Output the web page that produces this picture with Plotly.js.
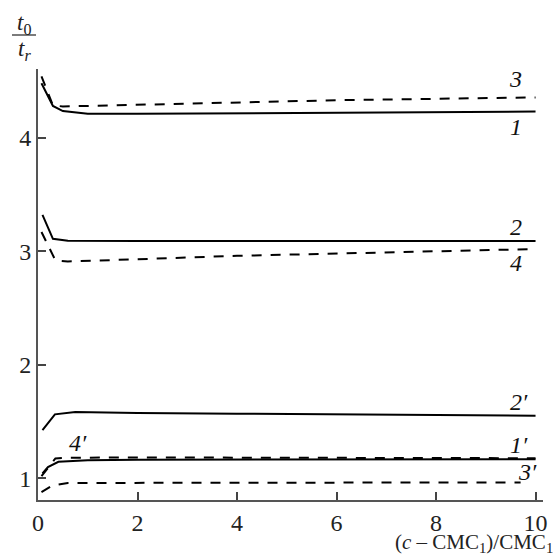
<!DOCTYPE html>
<html>
<head>
<meta charset="utf-8">
<script src="https://cdn.plot.ly/plotly-3.0.1.min.js"></script>
<style>html,body{margin:0;padding:0;background:#fff;}#chart{width:555px;height:556px;}</style>
</head>
<body>
<div id="chart"></div>
<script>
// Curve data: x = (c - CMC1)/CMC1, y = t0/tr
var x1 = [0.07, 0.3, 0.5, 1, 2, 4, 6, 8, 10];
var y1 = [4.48, 4.28, 4.235, 4.21, 4.21, 4.215, 4.22, 4.225, 4.23];
var x3 = [0.07, 0.3, 0.5, 1, 3, 6, 10];
var y3 = [4.54, 4.285, 4.275, 4.28, 4.30, 4.33, 4.355];
var x2 = [0.09, 0.3, 0.6, 2, 6, 10];
var y2 = [3.32, 3.11, 3.093, 3.09, 3.09, 3.09];
var x4 = [0.07, 0.35, 0.6, 1, 2, 4, 6, 8, 10];
var y4 = [3.17, 2.92, 2.91, 2.915, 2.93, 2.96, 2.98, 3.0, 3.02];
var x2p = [0.09, 0.34, 0.75, 2, 4, 7, 10];
var y2p = [1.425, 1.564, 1.584, 1.575, 1.57, 1.56, 1.552];
var x1p = [0.09, 0.2, 0.41, 1, 2, 5, 10];
var y1p = [1.044, 1.10, 1.146, 1.16, 1.165, 1.168, 1.168];
var x4p = [0.07, 0.35, 0.6, 2, 5, 10];
var y4p = [1.02, 1.176, 1.182, 1.185, 1.182, 1.178];
var x3p = [0.07, 0.28, 0.6, 2, 5, 9.7];
var y3p = [0.88, 0.935, 0.96, 0.96, 0.962, 0.965];

var curveLabels = ["1", "2", "3", "4", "1′", "2′", "3′", "4′"];
var labelX = [9.6, 9.6, 9.6, 9.6, 9.66, 9.66, 9.84, 0.8];
var labelY = [4.097, 3.216, 4.517, 2.896, 1.293, 1.675, 1.058, 1.308];

var xTicks = [0, 2, 4, 6, 8, 10];
var yTicks = [1, 2, 3, 4];

var serif = "Liberation Serif";
function solid(x, y) { return {x: x, y: y, mode: "lines", line: {color: "#000", width: 2}, hoverinfo: "skip"}; }
function dashed(x, y) { return {x: x, y: y, mode: "lines", line: {color: "#000", width: 2, dash: "10px,9px"}, hoverinfo: "skip"}; }

var data = [
  solid(x1, y1), dashed(x3, y3), solid(x2, y2), dashed(x4, y4),
  solid(x2p, y2p), solid(x1p, y1p), dashed(x4p, y4p), dashed(x3p, y3p)
];

var plotW = 555 - 38 - 12, plotH = 556 - 69 - 56;
function px(xp) { return (xp - 38) / plotW; }
function py(yp) { return (556 - 56 - yp) / plotH; }

var annotations = curveLabels.map(function (t, i) {
  return {x: labelX[i], y: labelY[i], xref: "x", yref: "y", text: "<i>" + t + "</i>",
    showarrow: false, font: {family: serif, size: 24, color: "#111"}, xanchor: "center", yanchor: "middle"};
});
annotations.push({xref: "paper", yref: "paper", x: px(555), y: py(558), xanchor: "right", yanchor: "bottom",
  text: "(<i>c</i> – CMC<sub>1</sub>)/CMC<sub>1</sub>", showarrow: false, font: {family: serif, size: 21, color: "#222"}});
annotations.push({xref: "paper", yref: "paper", x: px(24), y: py(24), xanchor: "center", yanchor: "middle",
  text: "<i>t</i><sub>0</sub>", showarrow: false, font: {family: serif, size: 23, color: "#222"}});
annotations.push({xref: "paper", yref: "paper", x: px(24), y: py(50), xanchor: "center", yanchor: "middle",
  text: "<i>t<sub>r</sub></i>", showarrow: false, font: {family: serif, size: 23, color: "#222"}});

var layout = {
  width: 555, height: 556,
  margin: {l: 38, r: 12, t: 69, b: 56},
  paper_bgcolor: "#fff", plot_bgcolor: "#fff",
  showlegend: false,
  font: {family: serif, size: 24, color: "#222"},
  xaxis: {range: [0, 10.15], tickvals: xTicks, ticks: "inside", ticklen: 8,
    tickwidth: 1.5, tickcolor: "#444", showline: true, linecolor: "#555", linewidth: 2, showgrid: false,
    zeroline: false, tickfont: {family: serif, size: 24, color: "#222"}},
  yaxis: {range: [0.81, 4.605], tickvals: yTicks, ticks: "inside", ticklen: 8,
    tickwidth: 1.5, tickcolor: "#444", showline: true, linecolor: "#555", linewidth: 2, showgrid: false,
    zeroline: false, tickfont: {family: serif, size: 24, color: "#222"}},
  shapes: [{type: "line", xref: "paper", yref: "paper", x0: px(12), x1: px(36), y0: py(35), y1: py(35),
    line: {color: "#222", width: 1.2}}],
  annotations: annotations
};

Plotly.newPlot("chart", data, layout, {displayModeBar: false});
</script>
</body>
</html>
